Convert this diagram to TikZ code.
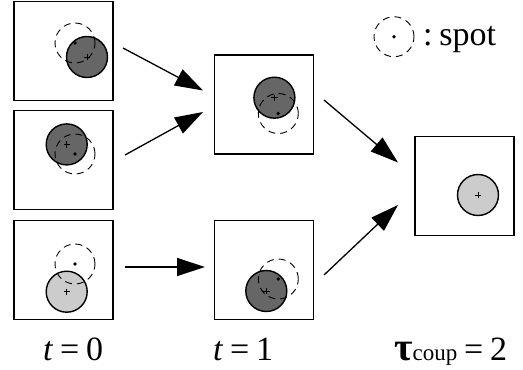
\documentclass[tikz,border=0pt]{standalone}
\usepackage{fontspec}
\setmainfont{Liberation Serif}
\usetikzlibrary{arrows.meta}
\definecolor{darkfill}{RGB}{102,102,102}
\definecolor{lightfill}{RGB}{204,204,204}
\tikzset{
  box/.style={draw, line width=1.4pt, minimum width=99pt, minimum height=99pt, inner sep=0pt},
  disc/.style={circle, draw, line width=1.4pt, minimum size=41pt, inner sep=0pt},
  darkdisc/.style={disc, fill=darkfill},
  lightdisc/.style={disc, fill=lightfill},
  spotc/.style={circle, draw, line width=0.9pt, dash pattern=on 7pt off 5pt, minimum size=40pt, inner sep=0pt},
  spotdot/.style={circle, fill, minimum size=3.8pt, inner sep=0pt},
  plusm/.pic={\draw[line width=0.8pt] (-3.2,0)--(3.2,0) (0,-3.2)--(0,3.2);},
  arr/.style={line width=1.3pt, -{Triangle[length=28pt,width=18pt]}},
  lbl/.style={inner sep=0pt, anchor=base west, font=\fontsize{34}{40}\selectfont}
}
\begin{document}
\begin{tikzpicture}[x=1pt,y=-1pt]
\useasboundingbox (0,0) rectangle (523,370);
% boxes
\node[box] (A) at (63.5,51) {};
\node[box] (B) at (63.5,160) {};
\node[box] (C) at (63.5,270) {};
\node[box] (D) at (264,104.5) {};
\node[box] (E) at (264,270) {};
\node[box] (F) at (464.5,186) {};
% box A
\node[darkdisc] (A1) at (87,57) {};
\node[spotc] (A2) at (75,43) {};
\node[spotdot] (A3) at (75,43) {};
\pic at (A1.center) {plusm};
% box B
\node[darkdisc] (B1) at (66.7,144.4) {};
\node[spotc] (B2) at (75,154) {};
\node[spotdot] (B3) at (75,154) {};
\pic at (B1.center) {plusm};
% box C
\node[lightdisc] (C1) at (66.7,291.7) {};
\node[spotc] (C2) at (75,264) {};
\node[spotdot] (C3) at (75,264) {};
\pic at (C1.center) {plusm};
% box D
\node[darkdisc] (D1) at (274.4,97.7) {};
\node[spotc] (D2) at (278.3,113.5) {};
\node[spotdot] (D3) at (278.3,113.5) {};
\pic at (D1.center) {plusm};
% box E
\node[darkdisc] (E1) at (266.3,291) {};
\node[spotc] (E2) at (278.3,279) {};
\node[spotdot] (E3) at (278.3,279) {};
\pic at (E1.center) {plusm};
% box F
\node[lightdisc] (F1) at (478,195) {};
\pic at (F1.center) {plusm};
% arrow ends
\coordinate (a1s) at (123,48);  \coordinate (a1e) at (203,90.5);
\coordinate (a2s) at (125,155); \coordinate (a2e) at (203,112);
\coordinate (a3s) at (125,267); \coordinate (a3e) at (205,267);
\coordinate (a4s) at (324,100); \coordinate (a4e) at (398,162.5);
\coordinate (a5s) at (324,275); \coordinate (a5e) at (398,205);
\draw[arr] (a1s) -- (a1e);
\draw[arr] (a2s) -- (a2e);
\draw[arr] (a3s) -- (a3e);
\draw[arr] (a4s) -- (a4e);
\draw[arr] (a5s) -- (a5e);
% legend
\node[spotc] (L1) at (394,36.7) {};
\node[spotdot] (L2) at (394,36.7) {};
\node[lbl] (L3) at (423,45) {:\hspace{0.2em}spot};
% labels
\node[lbl] (T0) at (43,360) {\textit{t}\hspace{0.2em}=\hspace{0.2em}0};
\node[lbl] (T1) at (213,360) {\textit{t}\hspace{0.2em}=\hspace{0.2em}1};
\node[lbl] (T2) at (394,360) {{\fontsize{40}{40}\selectfont\bfseries τ}{\fontsize{23}{24}\selectfont coup}\hspace{0.2em}=\hspace{0.2em}2};
\end{tikzpicture}
\end{document}
